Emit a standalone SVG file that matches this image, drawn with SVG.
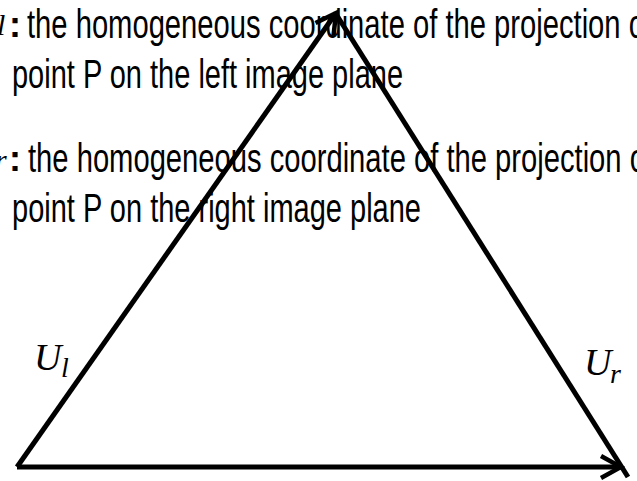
<svg xmlns="http://www.w3.org/2000/svg" width="637" height="481" viewBox="0 0 637 481">
  <style>
    .txt { font-family: "Liberation Sans", Arial, sans-serif; font-size: 40px; fill: #000; }
    .colon { font-family: "Liberation Sans", Arial, sans-serif; font-size: 36px; font-weight: bold; fill: #000; }
    .math { font-family: "Liberation Serif", "DejaVu Serif", serif; font-style: italic; fill: #000; }
    .edge { stroke: #000; stroke-width: 5; fill: none; stroke-linecap: butt; }
  </style>
  <defs>
    <marker id="arrow" viewBox="0 0 26 26" markerWidth="26" markerHeight="26" refX="22" refY="13" orient="auto" markerUnits="userSpaceOnUse">
      <path d="M2,2 L22,13 L2,24" fill="none" stroke="#000" stroke-width="4.5" stroke-linejoin="miter"/>
    </marker>
  </defs>
  <rect width="637" height="481" fill="#fff"/>

  <g id="legend-left">
    <text class="math" x="-3" y="35" font-size="30">l</text>
    <text class="colon" x="9" y="37">:</text>
    <text class="txt" x="27" y="38" textLength="626" lengthAdjust="spacingAndGlyphs">the homogeneous coordinate of the projection of</text>
    <text class="txt" x="12" y="88" textLength="391" lengthAdjust="spacingAndGlyphs">point P on the left image plane</text>
  </g>

  <g id="legend-right">
    <text class="math" x="-5" y="170" font-size="30">r</text>
    <text class="colon" x="9" y="171">:</text>
    <text class="txt" x="28" y="172" textLength="626" lengthAdjust="spacingAndGlyphs">the homogeneous coordinate of the projection of</text>
    <text class="txt" x="12" y="222" textLength="409" lengthAdjust="spacingAndGlyphs">point P on the right image plane</text>
  </g>

  <g id="connectors">
    <path class="edge" d="M17,467 L336,13" marker-end="url(#arrow)"/>
    <path class="edge" d="M336,14 L628,477"/>
    <path class="edge" d="M17,467 L621,467" marker-end="url(#arrow)"/>
  </g>

  <g id="label-ul">
    <text class="math" x="34" y="370" font-size="38">U</text>
    <text class="math" x="61" y="377" font-size="28">l</text>
  </g>

  <g id="label-ur">
    <text class="math" x="584" y="375" font-size="38">U</text>
    <text class="math" x="610" y="383" font-size="28">r</text>
  </g>
</svg>
